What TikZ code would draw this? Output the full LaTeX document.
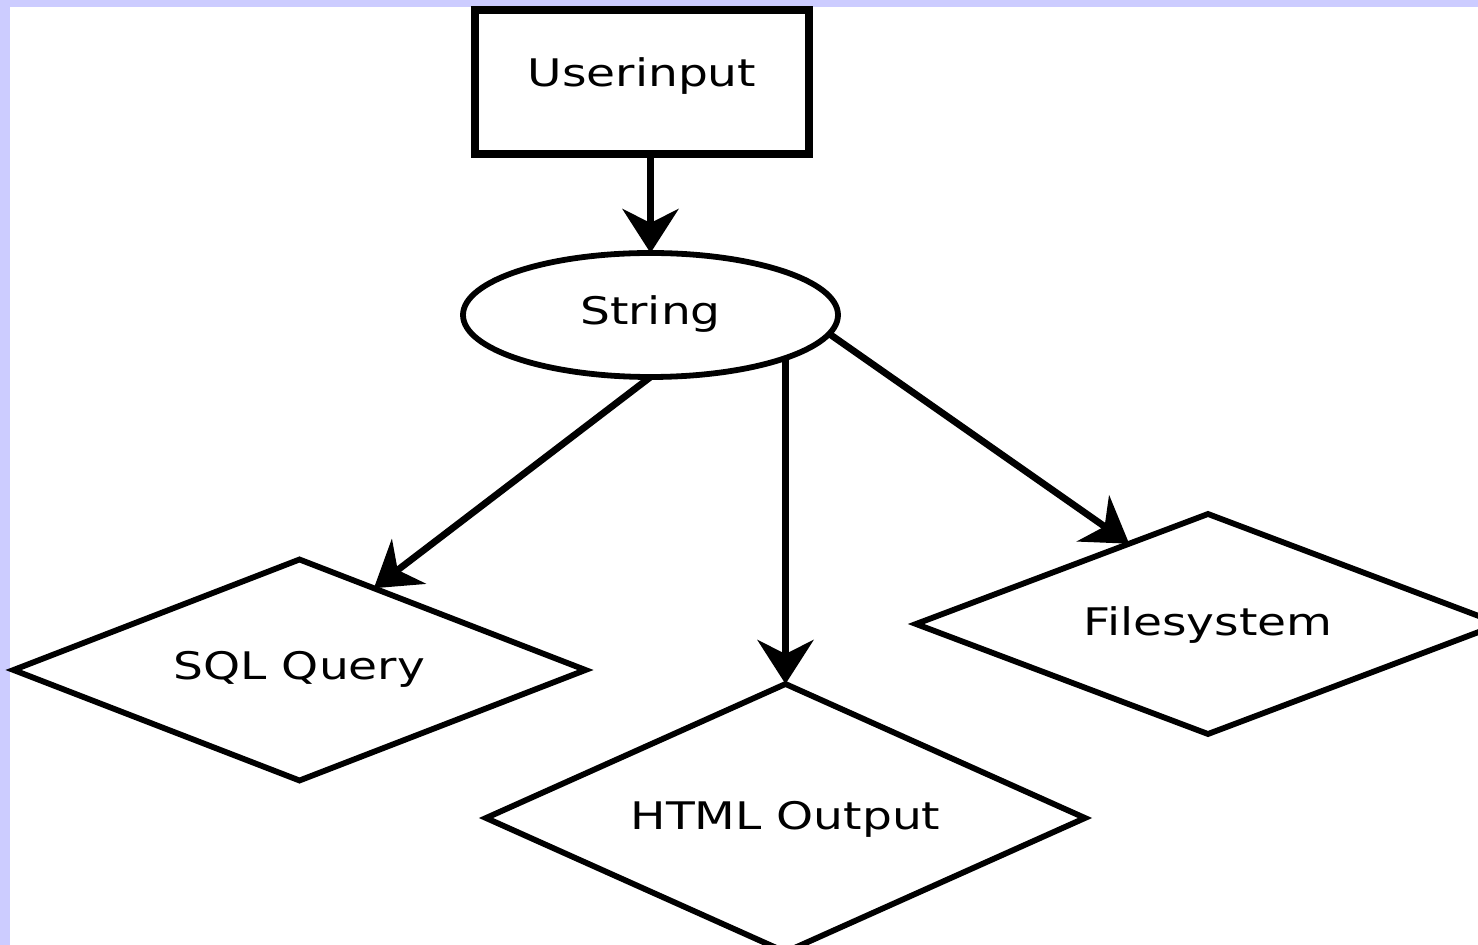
\documentclass[tikz,border=0pt]{standalone}
\usepackage{fontspec}
\setmainfont{DejaVu Sans}[FakeStretch=1.24]
\usetikzlibrary{shapes.geometric,arrows.meta,calc}
\definecolor{lav}{HTML}{CCCCFF}
\begin{document}
\begin{tikzpicture}[x=0.5pt,y=-0.5pt,
  every node/.style={font=\fontsize{19}{22}\selectfont, inner sep=0pt, outer sep=0pt, text depth=0pt},
  boxnode/.style={draw, line width=3.6pt, rectangle, minimum width=167pt, minimum height=72pt},
  ellnode/.style={draw, line width=2.9pt, ellipse, minimum width=187.5pt, minimum height=62pt},
  decnode/.style={draw, line width=2.9pt, diamond, aspect=2.6},
  conn/.style={line width=3.4pt, -{Stealth[length=22pt,width=28pt,inset=7pt]}}
]
\useasboundingbox (0,0) rectangle (1478,945);
\fill[lav] (0,0) rectangle (1478,945);
\fill[white] (10,7) rectangle (1478,945);
\clip (0,0) rectangle (1478,945);

\node[boxnode, text height=5pt] (ui) at (642,82) {Userinput};
\node[ellnode, text height=10pt] (str) at (650.5,315) {String};
\node[decnode, minimum width=286pt, minimum height=110.5pt, text height=10pt] (sql) at (299.5,670) {SQL Query};
\node[decnode, minimum width=299.5pt, minimum height=134pt, text height=11pt] (html) at (785.5,818) {HTML Output};
\node[decnode, minimum width=292pt, minimum height=110pt, text height=12pt] (fs) at (1208,624) {Filesystem};

\draw[conn] (str.north |- ui.south) -- (str.north);
\draw[conn] (str.south) -- ($(sql.north)!0.26!(sql.east)$);
\draw[conn] (html.north |- str.-18) -- (html.north);
\draw[conn] (str.-6) -- ($(fs.north)!0.27!(fs.west)$);
\end{tikzpicture}
\end{document}
